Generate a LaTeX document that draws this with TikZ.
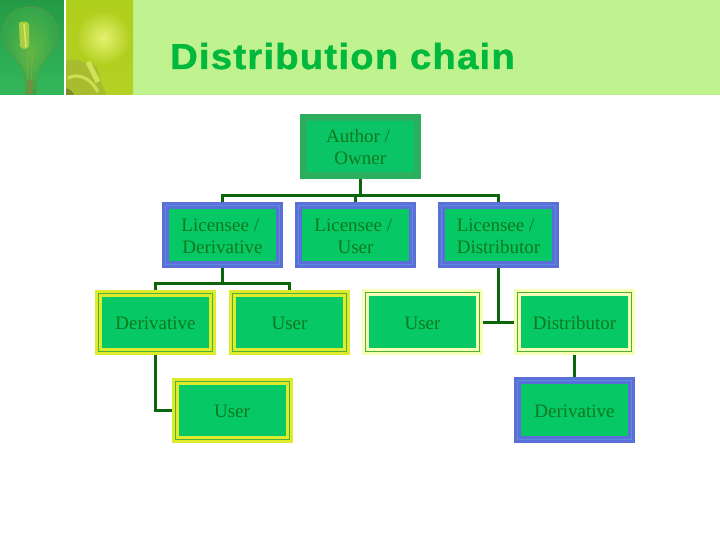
\documentclass[tikz,border=0pt]{standalone}
\usepackage{fontspec}
\setmainfont{Liberation Serif}
\newfontfamily\titlefont{Liberation Sans Bold}[LetterSpace=3.5,FakeBold=1.2,FakeStretch=1.06]
\newcommand{\tx}[1]{\raisebox{-1pt}[\height][\depth]{#1}}
\definecolor{bandG}{HTML}{C0F290}
\definecolor{fillG}{HTML}{06C864}
\definecolor{authB}{HTML}{2BAE5E}
\definecolor{authF}{HTML}{0CC468}
\definecolor{blueO}{HTML}{5B6FD8}
\definecolor{blueM}{HTML}{5C8CE0}
\definecolor{yelO}{HTML}{DDEB2A}
\definecolor{paleO}{HTML}{F6FFB4}
\definecolor{thinG}{HTML}{4FAF3A}
\definecolor{txtG}{HTML}{0E7A1E}
\definecolor{lineG}{HTML}{0B660B}
\definecolor{titleG}{HTML}{00B83C}
\definecolor{lbTop}{HTML}{249A46}
\definecolor{lbBot}{HTML}{34B85C}
\definecolor{lbGlassIn}{HTML}{62B644}
\definecolor{lbGlassOut}{HTML}{33A64C}
\definecolor{lbEdge}{HTML}{5E9A3A}
\definecolor{lbFil}{HTML}{A6D040}
\definecolor{lbHot}{HTML}{E2E070}
\definecolor{lbWire}{HTML}{7DAE40}
\definecolor{lbBase}{HTML}{6E9040}
\definecolor{rbTop}{HTML}{B0CE1C}
\definecolor{rbBot}{HTML}{B4D024}
\definecolor{rbGlow}{HTML}{E4F270}
\definecolor{rbDark}{HTML}{A8BC30}
\definecolor{rbDeep}{HTML}{7C8C28}
\definecolor{rbLt}{HTML}{CCE050}
\definecolor{rbLt2}{HTML}{D0E258}
\tikzset{
  chainbox/.style={rectangle,minimum width=114pt,minimum height=58.5pt,inner sep=0pt,outer sep=3.5pt,
    fill=fillG,text=txtG,font=\fontsize{19}{22}\selectfont,align=center,line width=3pt,double distance=1pt},
  authorbox/.style={chainbox,draw=authB,double=authB,fill=authF},
  bluebox/.style={chainbox,draw=blueO,double=blueM},
  yellowbox/.style={chainbox,draw=yelO,double=thinG},
  palebox/.style={chainbox,draw=paleO,double=thinG},
  link/.style={draw=lineG,line width=3pt}
}
\begin{document}
\begin{tikzpicture}[x=1pt,y=-1pt]
\useasboundingbox (0,0) rectangle (720,540);
\fill[white] (0,0) rectangle (720,540);
% header band
\fill[bandG] (0,0) rectangle (720,95);
% left picture
\shade[top color=lbTop,bottom color=lbBot] (0,0) rectangle (64,95);
\fill[white] (64,0) rectangle (66,95);
\begin{scope}
\clip (0,0) rectangle (64,95);
\shade[inner color=lbGlassIn,outer color=lbGlassOut] (30,7) .. controls (10,7) and (3,22) .. (3,34) .. controls (3,50) and (20,58) .. (24,72) -- (26,95) -- (36,95) -- (38,72) .. controls (42,58) and (58,50) .. (58,34) .. controls (58,20) and (48,7) .. (30,7) -- cycle;
\draw[lbEdge,line width=.7pt] (30,7) .. controls (10,7) and (3,22) .. (3,34) .. controls (3,50) and (20,58) .. (24,72) -- (26,95);
\draw[lbEdge,line width=.7pt] (30,7) .. controls (48,7) and (58,20) .. (58,34) .. controls (58,50) and (42,58) .. (38,72) -- (36,95);
\fill[lbFil] (19,23) .. controls (22,21) and (27,21) .. (29,24) -- (29,46) .. controls (27,50) and (22,50) .. (20,46) -- cycle;
\draw[lbHot,line width=1.5pt] (24,24) -- (26,47);
\draw[lbWire,line width=.8pt] (27,50) -- (28,80);
\draw[lbWire,line width=.8pt] (33,50) -- (31,80);
\fill[lbBase] (27,80) rectangle (33,94);
\end{scope}
% right picture
\shade[top color=rbTop,bottom color=rbBot] (66,0) rectangle (133,95);
\begin{scope}
\clip (66,0) rectangle (133,95);
\shade[inner color=rbGlow,outer color=rbTop] (103,38) circle (28);
\fill[rbDark] (66,60) -- (78,60) -- (96,66) -- (106,95) -- (66,95) -- cycle;
\draw[rbLt,line width=3pt] (68,78) .. controls (80,72) and (92,80) .. (98,92);
\draw[rbLt2,line width=5pt] (88,62) -- (98,82);
\fill[rbDeep] (66,88) .. controls (70,89) and (73,92) .. (74,95) -- (66,95) -- cycle;
\end{scope}
% title
\node[inner sep=0pt,anchor=base west,text=titleG,font=\titlefont\fontsize{36}{40}\selectfont] (title) at (170,69) {Distribution chain};
% boxes
\node[authorbox] (author) at (360.3,146.5) {\tx{Author /\hspace*{4.5pt}}\\\tx{Owner}};
\node[bluebox] (licD) at (222.5,235) {\tx{Licensee /\hspace*{4.5pt}}\\\tx{Derivative}};
\node[bluebox] (licU) at (355.5,235) {\tx{Licensee /\hspace*{4.5pt}}\\\tx{User}};
\node[bluebox,align=left] (licT) at (498.5,235) {\tx{Licensee /}\\\tx{Distributor}};
\node[yellowbox] (derA) at (155.5,322.5) {\tx{Derivative}};
\node[yellowbox] (userA) at (289.5,322.5) {\tx{User}};
\node[yellowbox] (userB) at (232,410.5) {\tx{User}};
\node[palebox] (userC) at (422.5,322) {\tx{User}};
\node[palebox] (dist) at (574.5,322) {\tx{Distributor}};
\node[bluebox] (derB) at (574.5,410) {\tx{Derivative}};
% connectors
\coordinate (j1) at (360.3,195.5);
\coordinate (j2) at (222.5,283.5);
\path[link] (author.south) -- (j1);
\path[link] (licD.north) |- (j1) -| (licT.north);
\path[link] (licU.north) -- (licU.north |- j1);
\path[link] (licD.south) -- (j2);
\path[link] (derA.north) |- (j2) -| (userA.north);
\path[link] (derA.south) |- (userB.west);
\path[link] (licT.south) -- (licT.south |- userC.east);
\path[link] (userC.east) -- (dist.west);
\path[link] (dist.south) -- (derB.north);
\end{tikzpicture}
\end{document}
